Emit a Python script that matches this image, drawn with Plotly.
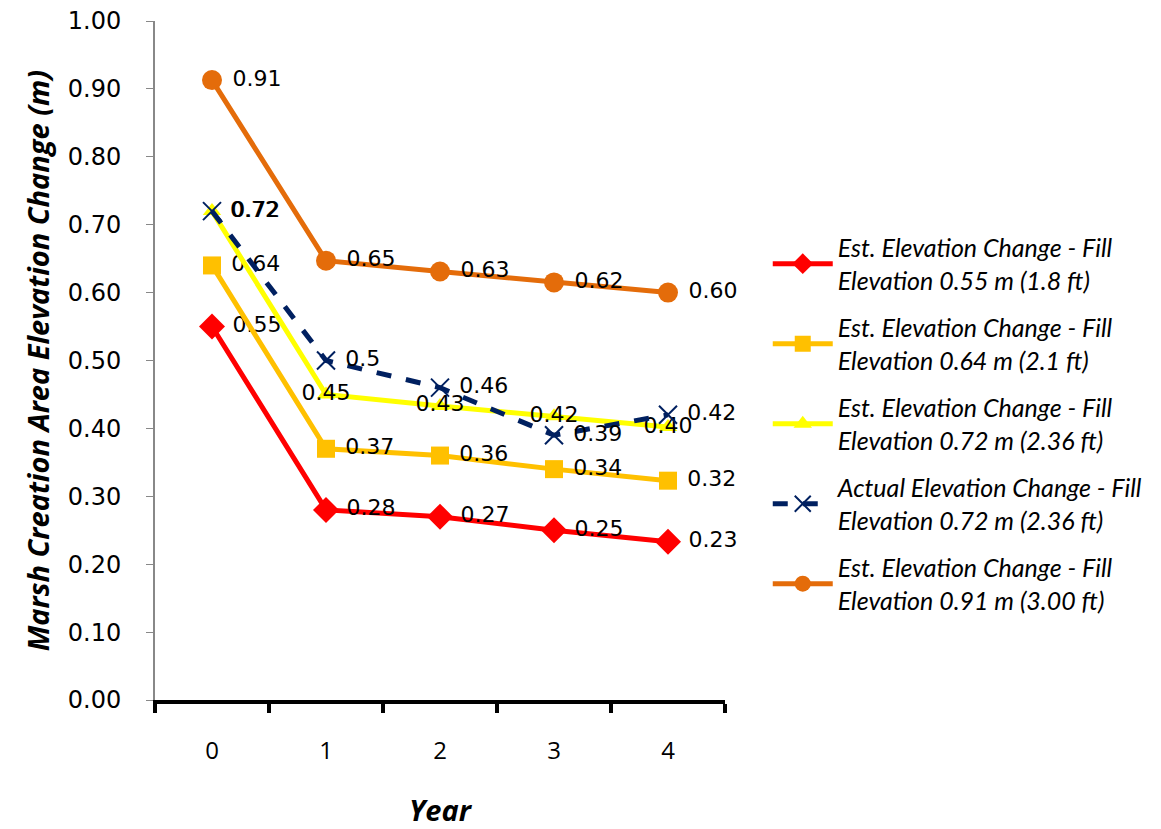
import plotly.graph_objects as go

years = ["0", "1", "2", "3", "4"]

red_vals = [0.55, 0.28, 0.27, 0.25, 0.233]
red_labels = ["0.55", "0.28", "0.27", "0.25", "0.23"]

sq_vals = [0.64, 0.37, 0.36, 0.34, 0.323]
sq_labels = ["0.64", "0.37", "0.36", "0.34", "0.32"]

yel_vals = [0.72, 0.45, 0.433, 0.418, 0.402]
yel_labels = ["0.72", "0.45", "0.43", "0.42", "0.40"]
yel_pos = ["middle right", "middle center", "middle center", "middle center", "middle center"]

act_vals = [0.72, 0.50, 0.46, 0.39, 0.42]
act_labels = ["0.72", "0.5", "0.46", "0.39", "0.42"]

org_vals = [0.913, 0.647, 0.631, 0.615, 0.60]
org_labels = ["0.91", "0.65", "0.63", "0.62", "0.60"]

names = [
    "Est. Elevation Change - Fill<br>Elevation 0.55 m (1.8 ft)",
    "Est. Elevation Change - Fill<br>Elevation 0.64 m (2.1 ft)",
    "Est. Elevation Change - Fill<br>Elevation 0.72 m (2.36 ft)",
    "Actual Elevation Change - Fill<br>Elevation 0.72 m (2.36 ft)",
    "Est. Elevation Change - Fill<br>Elevation 0.91 m (3.00 ft)",
]

lab_font = dict(family="DejaVu Sans", size=22, color="black")

fig = go.Figure()
fig.add_trace(go.Scatter(
    x=years, y=red_vals, name=names[0], legendgroup="a", mode="lines+markers+text",
    line=dict(color="#FF0000", width=5),
    marker=dict(symbol="diamond", size=20, color="#FF0000"),
    text=[" " + t for t in red_labels], textposition="middle right", textfont=lab_font,
    cliponaxis=False))
fig.add_trace(go.Scatter(
    x=years, y=sq_vals, name=names[1], legendgroup="b", mode="lines+markers+text",
    line=dict(color="#FFC000", width=5),
    marker=dict(symbol="square", size=18, color="#FFC000"),
    text=[" " + t for t in sq_labels], textposition="middle right", textfont=lab_font,
    cliponaxis=False))
fig.add_trace(go.Scatter(
    x=years, y=yel_vals, name=names[2], legendgroup="c", mode="lines+markers+text",
    line=dict(color="#FFFF00", width=5),
    marker=dict(symbol="triangle-up", size=16, color="#FFFF00"),
    text=[(" " + t) if p == "middle right" else t for t, p in zip(yel_labels, yel_pos)],
    textposition=yel_pos, textfont=lab_font, cliponaxis=False))
fig.add_trace(go.Scatter(
    x=years, y=act_vals, name=names[3], legendgroup="d", mode="lines+markers+text",
    line=dict(color="#002060", width=5, dash="dash"),
    marker=dict(symbol="x-thin", size=18, color="#002060",
                line=dict(color="#002060", width=2)),
    text=[" " + t for t in act_labels], textposition="middle right", textfont=lab_font,
    cliponaxis=False))
fig.add_trace(go.Scatter(
    x=years, y=org_vals, name=names[4], legendgroup="e", mode="lines+markers+text",
    line=dict(color="#E46C0A", width=5),
    marker=dict(symbol="circle", size=20, color="#E46C0A"),
    text=[" " + t for t in org_labels], textposition="middle right", textfont=lab_font,
    cliponaxis=False))

fig.update_layout(
    width=1161, height=829,
    margin=dict(l=155, r=436, t=21, b=129),
    paper_bgcolor="white", plot_bgcolor="white",
    showlegend=True,
    legend=dict(
        x=1.075, y=0.70, xanchor="left", yanchor="top",
        font=dict(family="Lato", size=25, color="black", style="italic"),
        tracegroupgap=12, itemwidth=60,
    ),
    xaxis=dict(
        type="category", range=[-0.5, 4.5], automargin=False,
        showline=True, linecolor="black", linewidth=4,
        ticks="outside", tickson="boundaries", ticklen=9, tickwidth=4, tickcolor="black",
        showgrid=False, zeroline=False,
        tickfont=dict(family="Open Sans", size=24, color="black"),
        ticklabelstandoff=26,
        title=dict(text="<b><i>Year</i></b>", font=dict(family="Open Sans", size=29, color="black"),
                   standoff=38),
    ),
    yaxis=dict(
        range=[0, 1.0], tickvals=[i / 10 for i in range(11)], automargin=False,
        ticktext=["%.2f" % (i / 10) for i in range(11)],
        showline=True, linecolor="#888888", linewidth=2,
        ticks="outside", ticklen=7, tickwidth=1, tickcolor="#888888",
        showgrid=False, zeroline=False,
        tickfont=dict(family="DejaVu Sans", size=24, color="black"),
        ticklabelstandoff=20,
        title=dict(text="<b><i>Marsh Creation Area Elevation Change (m)</i></b>",
                   font=dict(family="Open Sans", size=29, color="black"), standoff=10),
    ),
)

fig.write_html("out.html")
